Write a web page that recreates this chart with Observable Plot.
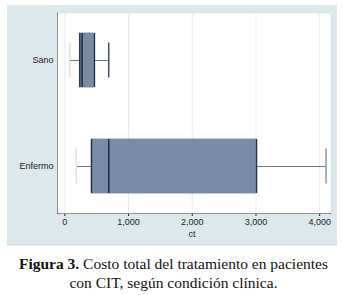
<!DOCTYPE html>
<html>
<head>
<meta charset="utf-8">
<script src="https://cdn.jsdelivr.net/npm/d3@7"></script>
<script src="https://cdn.jsdelivr.net/npm/@observablehq/plot@0.6"></script>
<style>
  html, body { margin: 0; padding: 0; background: #ffffff; }
  #panel { position: absolute; left: 7px; top: 5px; width: 330px; height: 241px; background: #dde8ec; }
  #xtitle { position: absolute; left: 172px; width: 40px; top: 229px; text-align: center;
    font-family: "Liberation Sans", Arial, sans-serif; font-size: 9px; color: #222; }
  #caption { position: absolute; left: 0; top: 254px; width: 347px; text-align: center;
    font-family: "Liberation Serif", "Times New Roman", Times, "DejaVu Serif", serif; font-size: 15.5px; line-height: 19px; color: #111; }
</style>
</head>
<body>
<div id="panel"></div>
<div id="xtitle"></div>
<div id="caption"><b>Figura 3.</b> Costo total del tratamiento en pacientes<br>con CIT, según condición clínica.</div>
<script>
const categories = ["Sano", "Enfermo"];
const lowWhisker = [78, 180];
const q1 = [235, 420];
const median = [272, 690];
const q3 = [466, 3010];
const highWhisker = [690, 4100];
const xTicks = [0, 1000, 2000, 3000, 4000];
const xTitle = "ct";

const data = categories.map((c, i) => ({
  cat: c, lo: lowWhisker[i], q1: q1[i], med: median[i], q3: q3[i], hi: highWhisker[i]
}));

const chart = Plot.plot({
  width: 330,
  height: 241,
  marginLeft: 50,
  marginRight: 7,
  marginTop: 8,
  marginBottom: 33,
  style: { background: "transparent", fontFamily: "Liberation Sans, Arial, sans-serif", fontSize: "9px", color: "#222" },
  x: { domain: [-115, 4170], ticks: xTicks, tickFormat: d3.format(","), tickSize: 3, tickPadding: 2, line: true, label: null },
  y: { domain: categories, paddingInner: 0.49, paddingOuter: 0.18, tickSize: 0, tickPadding: 4, line: true, label: null },
  marks: [
    Plot.frame({ fill: "white", stroke: "none" }),
    Plot.ruleX(xTicks, { stroke: "#e6ecee", strokeWidth: 1 }),
    Plot.ruleY(data, { y: "cat", x1: "lo", x2: "q1", stroke: "#6b7888", strokeWidth: 1 }),
    Plot.ruleY(data, { y: "cat", x1: "q3", x2: "hi", stroke: "#6b7888", strokeWidth: 1 }),
    Plot.tickX(data, { x: "lo", y: "cat", stroke: "#e2dcdc", strokeWidth: 1.5, insetTop: 9.5, insetBottom: 9.5 }),
    Plot.tickX(data, { x: "hi", y: "cat", stroke: (d) => d.cat === "Sano" ? "#26344a" : "#7a8898", strokeWidth: 1.3, insetTop: 9.5, insetBottom: 9.5 }),
    Plot.barX(data, { y: "cat", x1: "q1", x2: "q3", fill: "#7a8ca3", stroke: "#71839a", strokeWidth: 0.8 }),
    Plot.tickX(data, { x: "q1", y: "cat", stroke: "#1f3050", strokeWidth: 1.3 }),
    Plot.tickX(data, { x: "q3", y: "cat", stroke: "#1f3050", strokeWidth: 1.3 }),
    Plot.tickX(data, { x: "med", y: "cat", stroke: "#13223c", strokeWidth: 1.4 })
  ]
});
document.getElementById("panel").appendChild(chart);
document.getElementById("xtitle").textContent = xTitle;
</script>
</body>
</html>
